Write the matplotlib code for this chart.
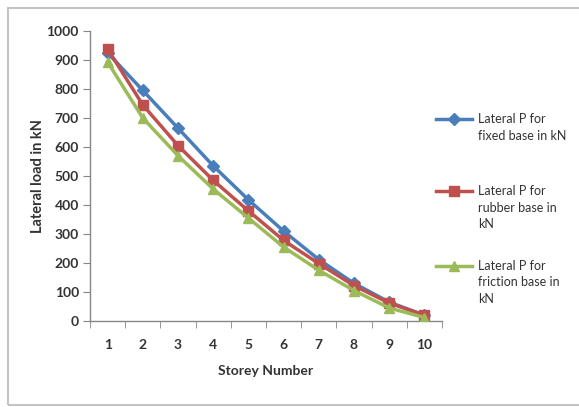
import matplotlib
matplotlib.use("Agg")
import matplotlib.pyplot as plt
from matplotlib.patches import Rectangle

storeys = [1, 2, 3, 4, 5, 6, 7, 8, 9, 10]
fixed = [925, 795, 665, 535, 418, 310, 212, 130, 65, 20]
rubber = [938, 745, 605, 485, 380, 278, 198, 122, 62, 20]
friction = [893, 700, 570, 455, 355, 255, 175, 105, 45, 12]
labels = ["Lateral P for\nfixed base in kN",
          "Lateral P for\nrubber base in\nkN",
          "Lateral P for\nfriction base in\nkN"]
y_ticks = [0, 100, 200, 300, 400, 500, 600, 700, 800, 900, 1000]

plt.rcParams['font.family'] = ['Lato', 'DejaVu Sans']
W, H = 579, 407
fig = plt.figure(figsize=(W / 100, H / 100), dpi=100)
fig.patch.set_facecolor('white')

def fx(px):
    return px / W

def fy(py):
    return 1 - py / H

# outer chart frame (top/left visible, right/bottom at the image edges)
fig.patches.append(Rectangle((fx(8), fy(405)), fx(600), fy(8) - fy(405),
                             transform=fig.transFigure, fill=False,
                             edgecolor='#C4C4C4', linewidth=1.5))

ax = fig.add_axes([fx(90), fy(321), fx(442) - fx(90), fy(31) - fy(321)])
txt = '#333333'
axc = '#868686'

colors = ['#4A7EBB', '#C0504D', '#9BBB59']
markers = ['D', 's', '^']
msizes = [6.5, 7.5, 7.5]
series = [fixed, rubber, friction]
handles = []
for vals, c, m, ms in zip(series, colors, markers, msizes):
    h, = ax.plot(storeys, vals, color=c, linewidth=2.5, marker=m, markersize=ms,
                 markeredgecolor=c, markerfacecolor=c, zorder=3)
    handles.append(h)

ax.set_xlim(0.5, 10.5)
ax.set_ylim(0, 1000)
ax.set_yticks(y_ticks)
ax.set_xticks(storeys)
ax.set_xticks([s + 0.5 for s in [0] + storeys], minor=True)
ax.tick_params(axis='x', which='major', length=0, pad=13, labelsize=10, labelcolor=txt)
ax.tick_params(axis='x', which='minor', length=5, color=axc, direction='out')
ax.tick_params(axis='y', which='major', length=5, color=axc, direction='out',
               labelsize=10, labelcolor=txt, pad=3)
for sp in ['top', 'right']:
    ax.spines[sp].set_visible(False)
for sp in ['left', 'bottom']:
    ax.spines[sp].set_color(axc)
    ax.spines[sp].set_linewidth(1.0)

for lab in ax.get_xticklabels() + ax.get_yticklabels():
    lab.set_fontweight('bold')

ax.set_xlabel("Storey Number", fontsize=10, fontweight='bold', color=txt, labelpad=10)
ax.set_ylabel("Lateral load in kN", fontsize=10.5, fontweight='bold', color=txt, labelpad=1)

# legend: key per entry aligned with first text line
first_line_y = [120, 192, 267]
for h, lab, yy in zip(handles, labels, first_line_y):
    fig.legend(handles=[h], labels=[''], loc='center left',
               bbox_to_anchor=(fx(436), fy(yy)), frameon=False,
               handlelength=2.6, handletextpad=0, borderpad=0,
               borderaxespad=0, markerscale=0.9)
    fig.text(fx(478), fy(yy - 7), lab, ha='left', va='top', fontsize=9,
             color=txt, linespacing=1.45, transform=fig.transFigure)

fig.savefig("out.png", dpi=100, facecolor='white')
